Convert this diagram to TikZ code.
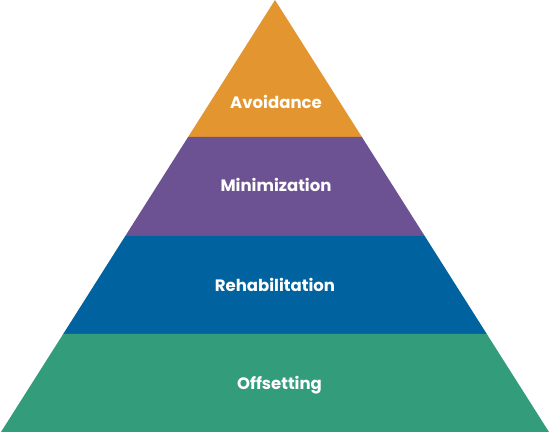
\documentclass[tikz,border=0pt]{standalone}
\usepackage{fontspec}
\setmainfont{Poppins}
\definecolor{avoidcol}{HTML}{E3952F}
\definecolor{minicol}{HTML}{6C5293}
\definecolor{rehabcol}{HTML}{0063A0}
\definecolor{offsetcol}{HTML}{339C7B}
\begin{document}
\begin{tikzpicture}[x=1pt,y=-1pt]
\tikzstyle{every node}+=[inner sep=0pt, text=white, font=\fontsize{16.5}{18}\selectfont\bfseries]
\useasboundingbox (0,0) rectangle (550,433);
\coordinate (apex) at (275,0);
\coordinate (l1) at (188.1,137);
\coordinate (r1) at (361.9,137);
\coordinate (l2) at (125.3,236);
\coordinate (r2) at (424.7,236);
\coordinate (l3) at (63.2,334);
\coordinate (r3) at (486.8,334);
\coordinate (l4) at (1,432);
\coordinate (r4) at (549,432);
\fill [avoidcol] (apex) -- (r1) -- (l1) -- cycle;
\fill [minicol] (l1) -- (r1) -- (r2) -- (l2) -- cycle;
\fill [rehabcol] (l2) -- (r2) -- (r3) -- (l3) -- cycle;
\fill [offsetcol] (l3) -- (r3) -- (r4) -- (l4) -- cycle;
\node (avoid) at (276,102) {Avoidance};
\node (mini) at (276,185) {Minimization};
\node (rehab) at (275,285) {Rehabilitation};
\node (offset) at (279.5,385) {Offsetting};
\end{tikzpicture}
\end{document}
